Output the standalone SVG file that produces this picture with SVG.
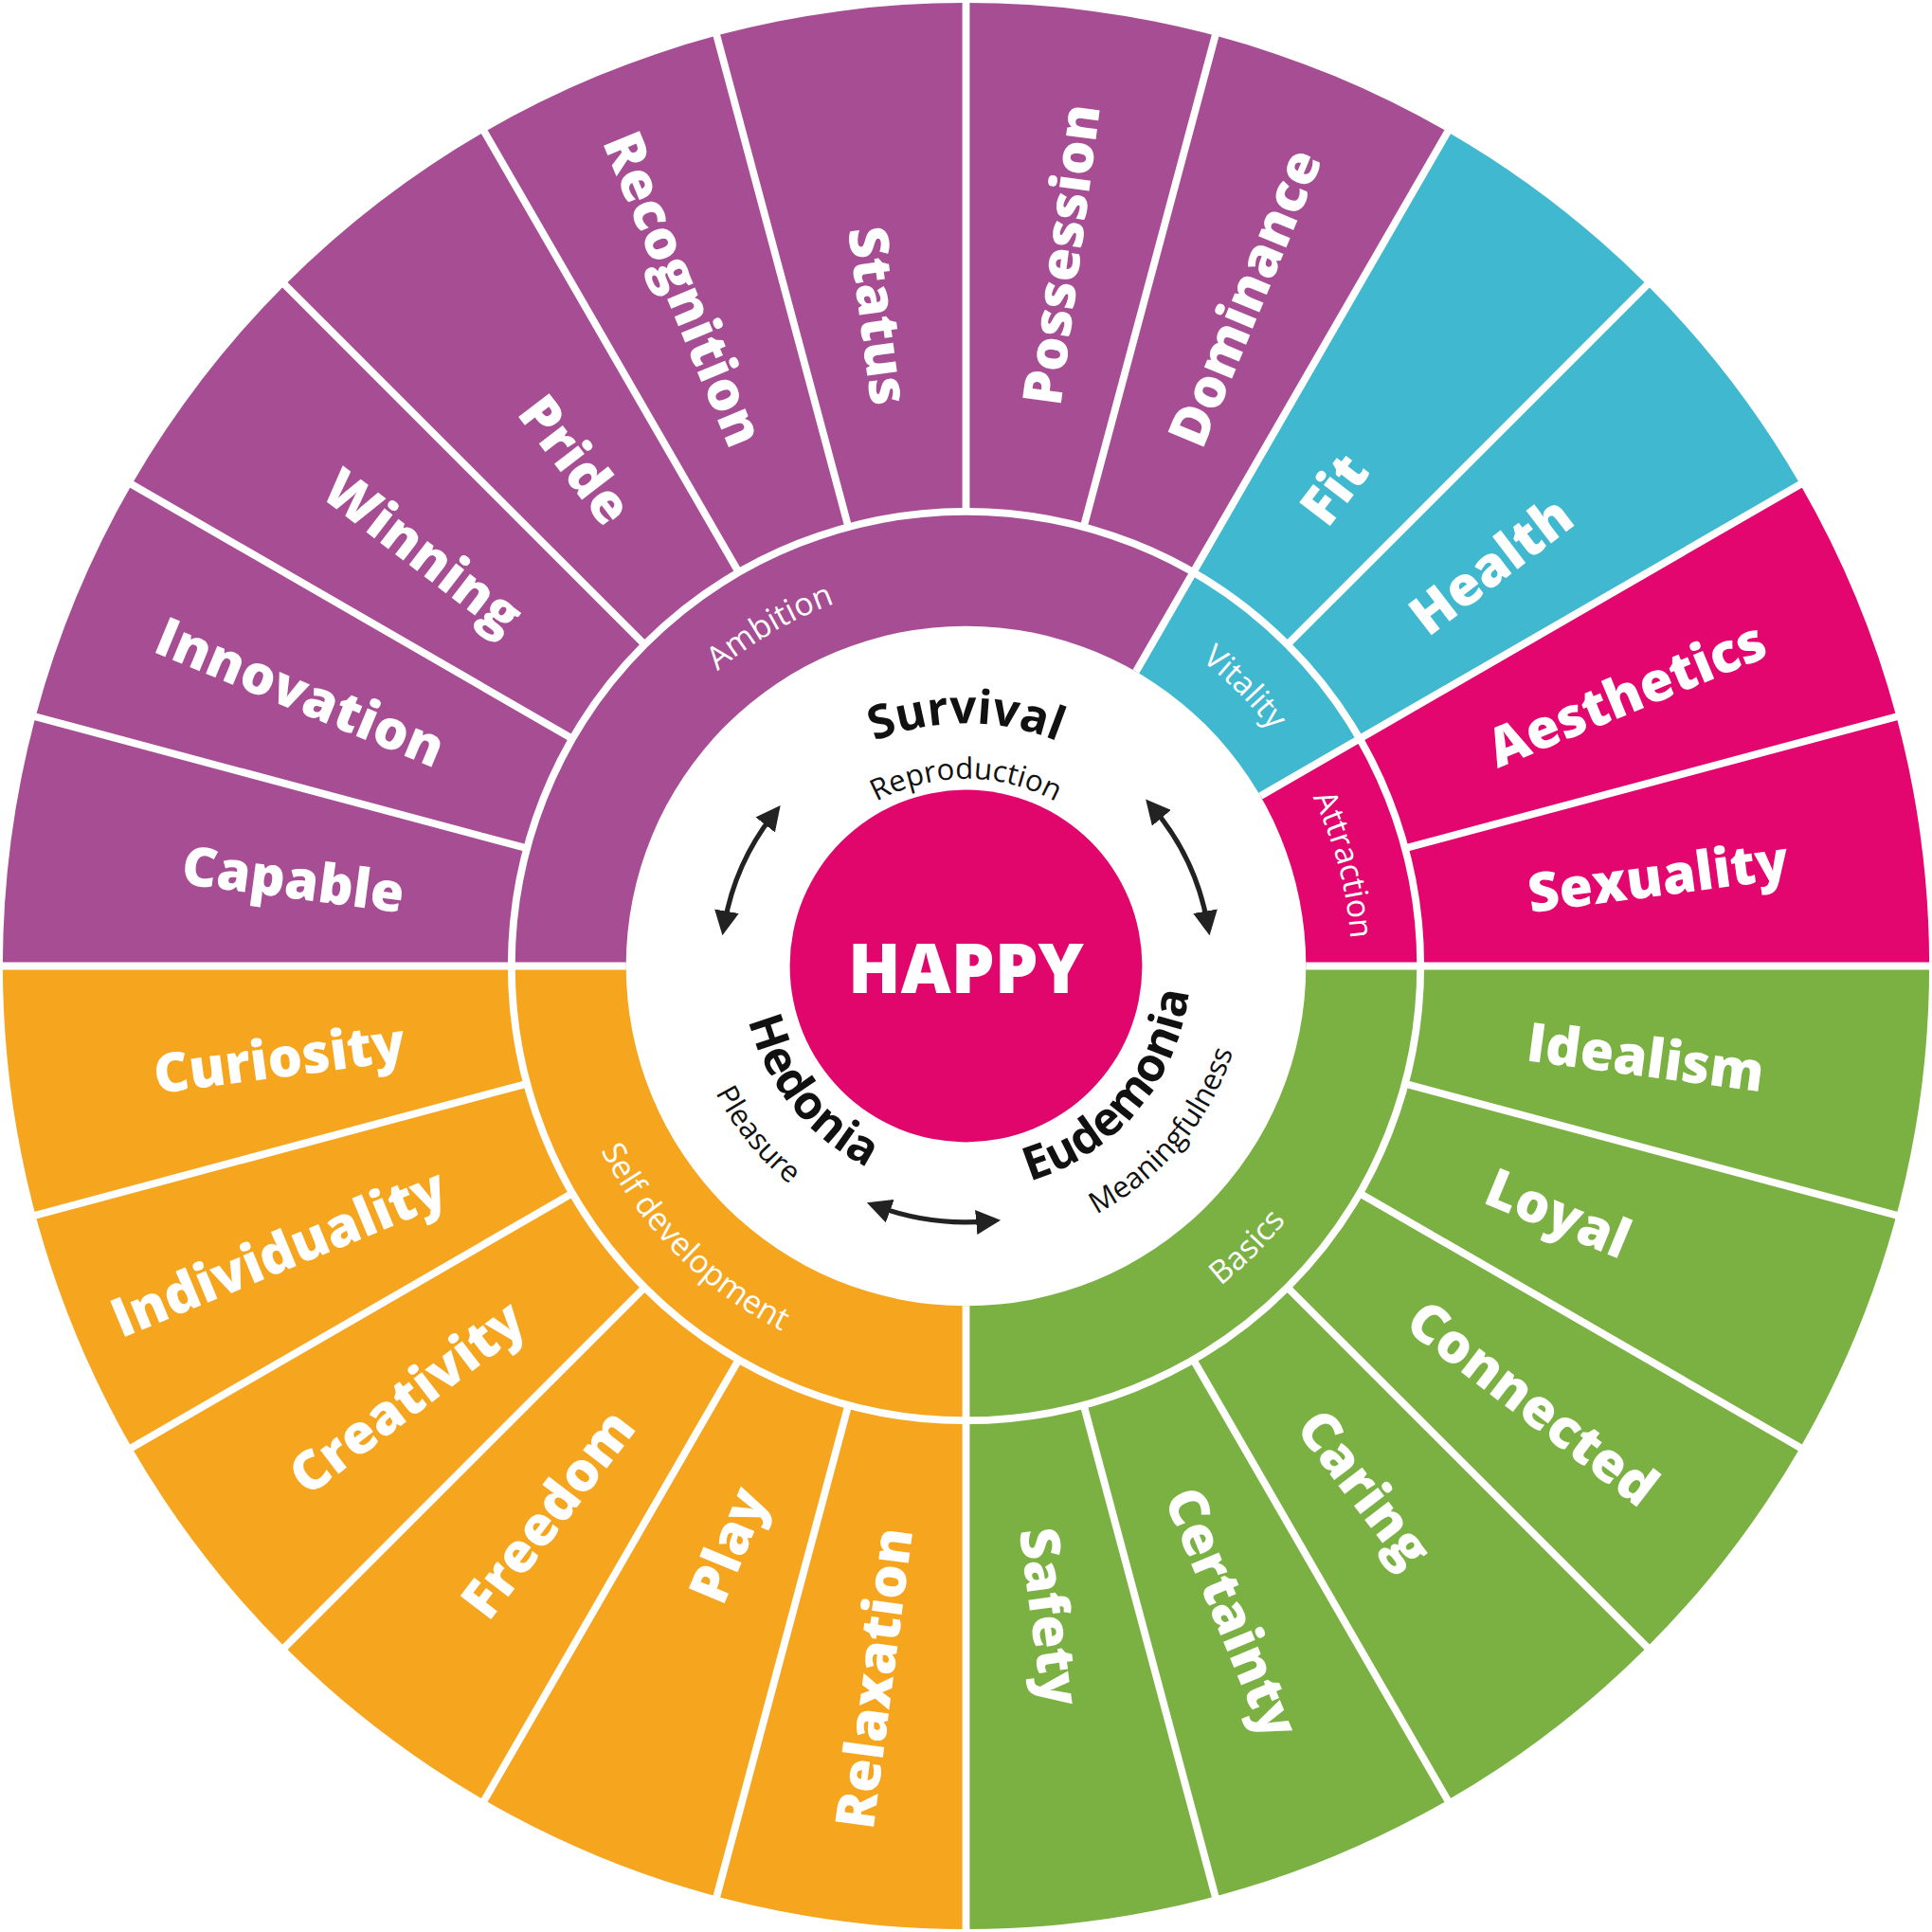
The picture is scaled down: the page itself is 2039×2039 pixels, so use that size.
<svg xmlns="http://www.w3.org/2000/svg" width="2039" height="2039" viewBox="0 0 2039 2039">
<style>
.lbl{font-family:"Open Sans","Liberation Sans",sans-serif;font-weight:800;font-size:44px;fill:#fff;dominant-baseline:central}
.mid{font-family:"Open Sans","Liberation Sans",sans-serif;font-weight:400;font-size:26px;fill:#fff}
.big{font-family:"Open Sans","Liberation Sans",sans-serif;font-weight:700;font-size:38px;fill:#111}
.small{font-family:"Open Sans","Liberation Sans",sans-serif;font-weight:500;font-size:24px;fill:#111}
.sep{stroke:#fff;stroke-width:6}
.arr{fill:none;stroke:#222;stroke-width:4;marker-start:url(#ah);marker-end:url(#ah)}
</style>
<defs>
<marker id="ah" viewBox="0 0 10 10" refX="5" refY="5" markerWidth="5" markerHeight="5" orient="auto-start-reverse" markerUnits="strokeWidth"><path d="M0 0 L10 5 L0 10 Z" fill="#222"/></marker>
<path id="pAmb" d="M-313 0 A313 313 0 0 1 156.5 -271.1"/>
<path id="pVit" d="M156.5 -271.1 A313 313 0 0 1 271.1 -156.5"/>
<path id="pAtt" d="M271.1 -156.5 A313 313 0 0 1 313 0"/>
<path id="pBas" d="M0 332 A332 332 0 0 0 332 0"/>
<path id="pSelf" d="M-332 0 A332 332 0 0 0 0 332"/>
<path id="pSur" d="M-197 0 A197 197 0 0 1 197 0"/>
<path id="pRep" d="M-152 0 A152 152 0 0 1 152 0"/>
<path id="pEud" d="M-104.4 149.1 A182 182 0 0 0 128.7 -128.7"/>
<path id="pMea" d="M-130.8 186.7 A228 228 0 0 0 161.2 -161.2"/>
<path id="pHed" d="M-126.4 -130.9 A182 182 0 0 0 101.8 150.9"/>
<path id="pPle" d="M-157.8 -163.4 A227 227 0 0 0 126.9 188.2"/>
</defs>
<rect width="2039" height="2039" fill="#fff"/>
<g transform="translate(1019.5 1019.5) scale(1.3)">
<g id="wedges">
<path d="M0 0 L-782 0 A782 782 0 0 1 391 -677.2 Z" fill="#A64D94"/>
<path d="M0 0 L391 -677.2 A782 782 0 0 1 677.2 -391 Z" fill="#40B8D0"/>
<path d="M0 0 L677.2 -391 A782 782 0 0 1 782 0 Z" fill="#E2066E"/>
<path d="M0 0 L782 0 A782 782 0 0 1 0 782 Z" fill="#7AB142"/>
<path d="M0 0 L0 782 A782 782 0 0 1 -782 0 Z" fill="#F6A51F"/>
</g>
<g id="connectors">
<circle r="369" fill="none" stroke="#fff" stroke-width="6"/>
<circle r="276" fill="#fff"/>
<g class="sep">
<line y1="-369" y2="-790" transform="rotate(0)"/><line y1="-369" y2="-790" transform="rotate(15)"/><line y1="-276" y2="-790" transform="rotate(30)"/><line y1="-369" y2="-790" transform="rotate(45)"/><line y1="-276" y2="-790" transform="rotate(60)"/><line y1="-369" y2="-790" transform="rotate(75)"/><line y1="-276" y2="-790" transform="rotate(90)"/><line y1="-369" y2="-790" transform="rotate(105)"/><line y1="-369" y2="-790" transform="rotate(120)"/><line y1="-369" y2="-790" transform="rotate(135)"/><line y1="-369" y2="-790" transform="rotate(150)"/><line y1="-369" y2="-790" transform="rotate(165)"/><line y1="-276" y2="-790" transform="rotate(180)"/><line y1="-369" y2="-790" transform="rotate(195)"/><line y1="-369" y2="-790" transform="rotate(210)"/><line y1="-369" y2="-790" transform="rotate(225)"/><line y1="-369" y2="-790" transform="rotate(240)"/><line y1="-369" y2="-790" transform="rotate(255)"/><line y1="-276" y2="-790" transform="rotate(270)"/><line y1="-369" y2="-790" transform="rotate(285)"/><line y1="-369" y2="-790" transform="rotate(300)"/><line y1="-369" y2="-790" transform="rotate(315)"/><line y1="-369" y2="-790" transform="rotate(330)"/><line y1="-369" y2="-790" transform="rotate(345)"/>
</g>
<path class="arr" d="M152.3 -127.8 A199 199 0 0 1 196 -34.6"/>
<path class="arr" d="M-196 -34.6 A199 199 0 0 1 -156.8 -122.5"/>
<path class="arr" d="M18.2 207.2 A208 208 0 0 1 -71.1 195.5"/>
</g>
<g id="outer-labels">
<text class="lbl" x="460" transform="rotate(-82.5)">Possession</text>
<text class="lbl" x="460" transform="rotate(-67.5)">Dominance</text>
<text class="lbl" x="460" transform="rotate(-52.5)">Fit</text>
<text class="lbl" x="460" transform="rotate(-37.5)">Health</text>
<text class="lbl" x="460" transform="rotate(-22.5)">Aesthetics</text>
<text class="lbl" x="460" transform="rotate(-7.5)">Sexuality</text>
<text class="lbl" x="460" transform="rotate(7.5)">Idealism</text>
<text class="lbl" x="460" transform="rotate(22.5)">Loyal</text>
<text class="lbl" x="460" transform="rotate(37.5)">Connected</text>
<text class="lbl" x="460" transform="rotate(52.5)">Caring</text>
<text class="lbl" x="460" transform="rotate(67.5)">Certainty</text>
<text class="lbl" x="460" transform="rotate(82.5)">Safety</text>
<text class="lbl" x="-460" text-anchor="end" transform="rotate(277.5)">Relaxation</text>
<text class="lbl" x="-460" text-anchor="end" transform="rotate(292.5)">Play</text>
<text class="lbl" x="-460" text-anchor="end" transform="rotate(307.5)">Freedom</text>
<text class="lbl" x="-460" text-anchor="end" transform="rotate(322.5)">Creativity</text>
<text class="lbl" x="-460" text-anchor="end" transform="rotate(337.5)">Individuality</text>
<text class="lbl" x="-460" text-anchor="end" transform="rotate(352.5)">Curiosity</text>
<text class="lbl" x="-460" text-anchor="end" transform="rotate(7.5)">Capable</text>
<text class="lbl" x="-460" text-anchor="end" transform="rotate(22.5)">Innovation</text>
<text class="lbl" x="-460" text-anchor="end" transform="rotate(37.5)">Winning</text>
<text class="lbl" x="-460" text-anchor="end" transform="rotate(52.5)">Pride</text>
<text class="lbl" x="-460" text-anchor="end" transform="rotate(67.5)">Recognition</text>
<text class="lbl" x="-460" text-anchor="end" transform="rotate(82.5)">Status</text>
</g>
<g id="ring-labels">
<text class="mid" text-anchor="middle"><textPath href="#pAmb" startOffset="50%">Ambition</textPath></text>
<text class="mid" text-anchor="middle"><textPath href="#pVit" startOffset="50%">Vitality</textPath></text>
<text class="mid" text-anchor="middle"><textPath href="#pAtt" startOffset="50%">Attraction</textPath></text>
<text class="mid" text-anchor="middle"><textPath href="#pBas" startOffset="50%">Basics</textPath></text>
<text class="mid" text-anchor="middle"><textPath href="#pSelf" startOffset="50%">Self development</textPath></text>
</g>
<g id="inner-labels">
<text class="big" text-anchor="middle"><textPath href="#pSur" startOffset="50%">Survival</textPath></text>
<text class="small" text-anchor="middle"><textPath href="#pRep" startOffset="50%">Reproduction</textPath></text>
<text class="big" text-anchor="middle"><textPath href="#pEud" startOffset="50%">Eudemonia</textPath></text>
<text class="small" text-anchor="middle"><textPath href="#pMea" startOffset="50%">Meaningfulness</textPath></text>
<text class="big" text-anchor="middle"><textPath href="#pHed" startOffset="50%">Hedonia</textPath></text>
<text class="small" text-anchor="middle"><textPath href="#pPle" startOffset="50%">Pleasure</textPath></text>
</g>
<g id="center">
<circle r="143" fill="#E0066C"/>
<text x="0" y="0" text-anchor="middle" dominant-baseline="central" style="font-family:'Open Sans','Liberation Sans',sans-serif;font-weight:800;font-size:56px;fill:#fff">HAPPY</text>
</g>
</g>
</svg>
